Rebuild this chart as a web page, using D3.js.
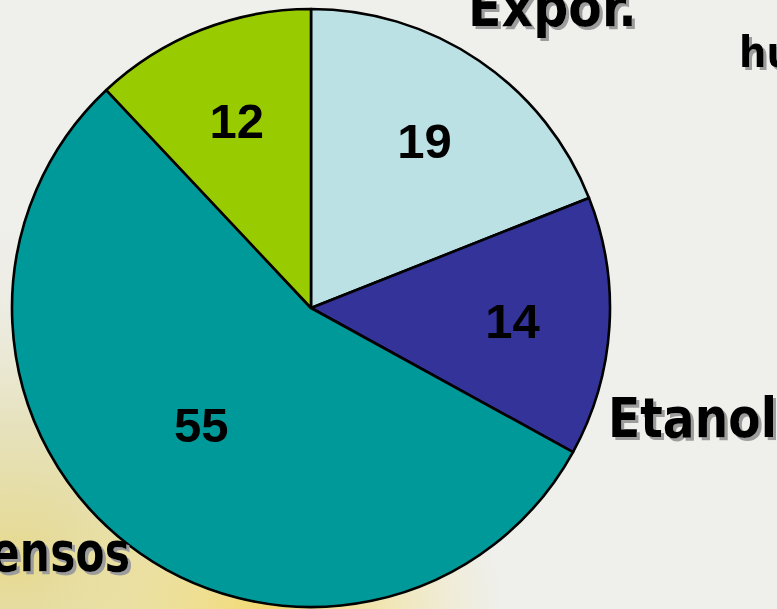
<!DOCTYPE html>
<html><head><meta charset="utf-8">
<script src="https://cdn.jsdelivr.net/npm/d3@7"></script>
<style>html,body{margin:0;padding:0;overflow:hidden;background:#efefec}</style>
</head><body>
<svg id="chart" width="777" height="609"></svg>
<script>
// ---- data ----
const categories = ["Expor.", "Etanol", "Piensos", "Otros"];
const values = [19, 14, 55, 12];
const sliceColors = ["#bce1e4", "#333399", "#009999", "#99cc00"];
// visible category captions (cropped slide) and an extra caption
const captions = ["Expor.", "Etanol", "ensos", "hu"];

// ---- layout ----
const W = 777, H = 609;
const cx = 311, cy = 308, R = 299;
const labelR = 202;
const labelTweak = [{dr:0,da:0},{dr:0,da:0},{dr:-42,da:5.5},{dr:0,da:0}];
const captionLayout = [
  {x:468, y:26, size:55, len:169},
  {x:608, y:437, size:55, len:169},
  {x:-9, y:571, size:55, len:139},
  {x:739, y:67, size:43, len:null}
];

const svg = d3.select("#chart");
const defs = svg.append("defs");
const g1 = defs.append("radialGradient").attr("id","bgA")
  .attr("cx",0.02).attr("cy",0.92).attr("r",0.62);
g1.append("stop").attr("offset","0%").attr("stop-color","#e6d98e");
g1.append("stop").attr("offset","35%").attr("stop-color","#e5e0b6").attr("stop-opacity",0.9);
g1.append("stop").attr("offset","70%").attr("stop-color","#eceadb").attr("stop-opacity",0.5);
g1.append("stop").attr("offset","100%").attr("stop-color","#efefec").attr("stop-opacity",0);
const g2 = defs.append("radialGradient").attr("id","bgB")
  .attr("cx",0.35).attr("cy",1.0).attr("r",0.3);
g2.append("stop").attr("offset","0%").attr("stop-color","#f2d86a");
g2.append("stop").attr("offset","100%").attr("stop-color","#f2e6a0").attr("stop-opacity",0);

const shadow = defs.append("filter").attr("id","shadow")
  .attr("x","-10%").attr("y","-10%").attr("width","130%").attr("height","130%");
shadow.append("feFlood").attr("flood-color","#9c9c9c").attr("result","fl");
shadow.append("feComposite").attr("in","fl").attr("in2","SourceAlpha").attr("operator","in").attr("result","sh");
shadow.append("feOffset").attr("in","sh").attr("dx",3).attr("dy",3).attr("result","off");
const mg = shadow.append("feMerge");
mg.append("feMergeNode").attr("in","off");
mg.append("feMergeNode").attr("in","SourceGraphic");

svg.append("rect").attr("width",W).attr("height",H).attr("fill","#efefec");
svg.append("rect").attr("width",W).attr("height",H).attr("fill","url(#bgA)");
svg.append("rect").attr("width",W).attr("height",H).attr("fill","url(#bgB)");

const pie = d3.pie().sort(null).value(d => d)(values);
const arc = d3.arc().innerRadius(0).outerRadius(R);
const g = svg.append("g").attr("transform",`translate(${cx},${cy})`);

g.selectAll("path.slice").data(pie).join("path")
  .attr("class","slice")
  .attr("d", arc)
  .attr("fill", (d,i) => sliceColors[i])
  .attr("stroke","#000").attr("stroke-width",2.6).attr("stroke-linejoin","round");

const numSize = 49;
g.selectAll("text.val").data(pie).join("text")
  .attr("class","val")
  .attr("transform",(d,i) => {
    const t = labelTweak[i];
    const a = (d.startAngle + d.endAngle)/2 + t.da*Math.PI/180;
    const r = labelR + t.dr;
    return `translate(${r*Math.sin(a)},${-r*Math.cos(a) + numSize*0.358})`;
  })
  .attr("text-anchor","middle")
  .attr("font-family","'Liberation Sans', Arial, sans-serif")
  .attr("font-weight","bold")
  .attr("font-size",numSize)
  .attr("fill","#000")
  .text(d => d.data);

const cap = svg.append("g").attr("filter","url(#shadow)");
captions.forEach((c,i) => {
  const L = captionLayout[i];
  const t = cap.append("text")
    .attr("x", L.x).attr("y", L.y)
    .attr("text-anchor", "start")
    .attr("font-family","'DejaVu Sans Condensed','DejaVu Sans',sans-serif")
    .attr("font-stretch","condensed")
    .attr("font-weight","bold")
    .attr("font-size", L.size)
    .attr("fill", "#000")
    .text(c);
  if (L.len) t.attr("textLength", L.len).attr("lengthAdjust","spacingAndGlyphs");
});
</script>
</body></html>
